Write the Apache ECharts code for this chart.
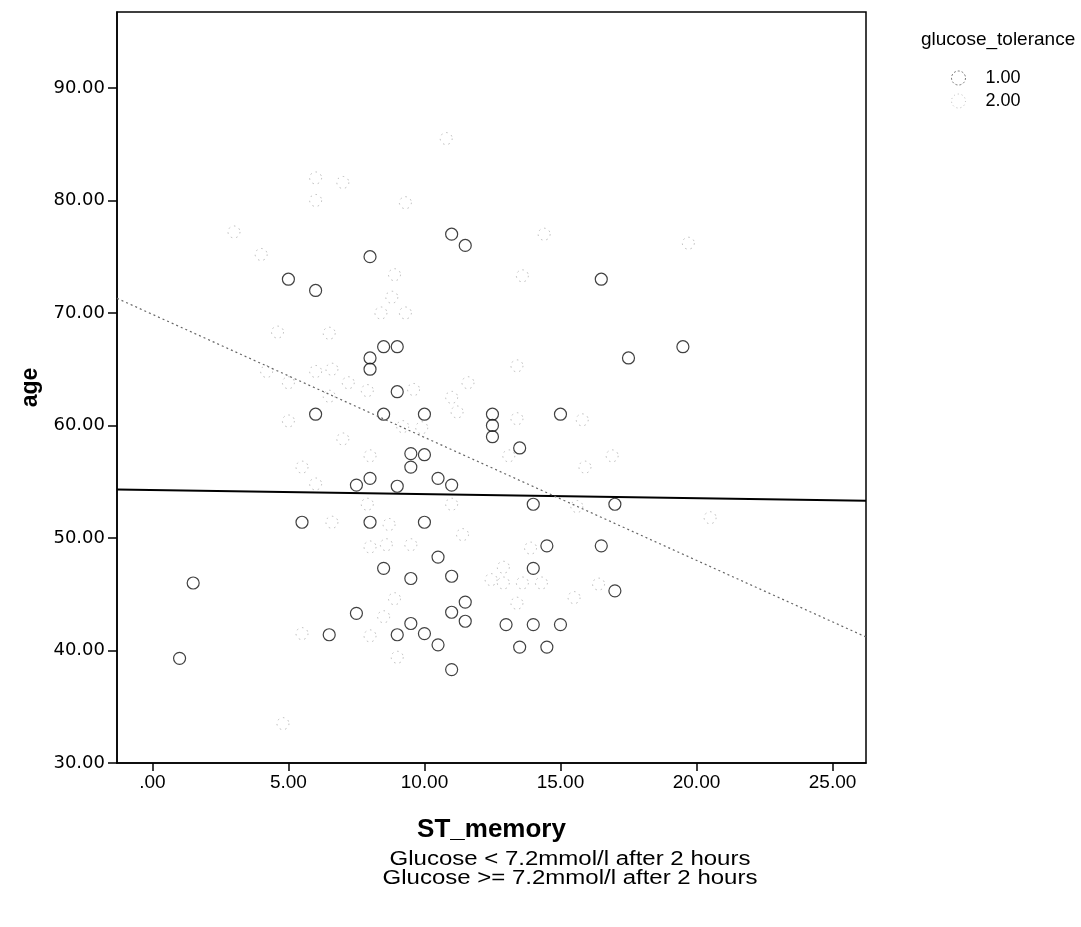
<!DOCTYPE html>
<html><head><meta charset="utf-8">
<script src="https://cdn.jsdelivr.net/npm/echarts@6/dist/echarts.min.js"></script>
<style>html,body{margin:0;padding:0;background:#fff}#c{width:1081px;height:927px}</style>
</head><body><div id="c"></div>
<script>
// ---- data ----
const xTicks = [0, 5, 10, 15, 20, 25];
const yTicks = [30, 40, 50, 60, 70, 80, 90];
const xRange = [-1.3, 26.23];
const yRange = [30, 96.75];
const groupNames = ['1.00', '2.00'];
const legendTitle = 'glucose_tolerance';
const xName = 'ST_memory';
const yName = 'age';
const footnotes = ['Glucose < 7.2mmol/l after 2 hours', 'Glucose >= 7.2mmol/l after 2 hours'];

// glucose_tolerance = 1.00 (ST_memory, age)
const tolerance1 = [
  [1,39.3],[1.5,46],[5,73],[6,72],[8,75],[11,77],[11.5,76],[16.5,73],[19.5,67],[17.5,66],
  [8,66],[8,65],[8.5,67],[9,67],[9,63],[6,61],[8.5,61],[10,61],[12.5,61],[12.5,60],
  [12.5,59],[15,61],[13.5,58],[9.5,57.5],[10,57.4],[9.5,56.3],[8,55.3],[7.5,54.7],[9,54.6],[10.5,55.3],
  [11,54.7],[14,53],[17,53],[5.5,51.4],[8,51.4],[10,51.4],[10.5,48.3],[8.5,47.3],[9.5,46.4],[11,46.6],
  [11.5,44.3],[11,43.4],[11.5,42.6],[7.5,43.3],[9.5,42.4],[9,41.4],[6.5,41.4],[10,41.5],[10.5,40.5],[11,38.3],
  [14.5,49.3],[16.5,49.3],[14,47.3],[17,45.3],[13,42.3],[14,42.3],[15,42.3],[13.5,40.3],[14.5,40.3]
];
// glucose_tolerance = 2.00 (ST_memory, age)
const tolerance2 = [
  [6,82],[6,80],[7,81.6],[9.3,79.8],[10.8,85.5],[3,77.2],[4,75.2],[14.4,77],[19.7,76.2],[8.9,73.4],
  [13.6,73.3],[8.8,71.4],[8.4,70],[9.3,70],[4.6,68.3],[6.5,68.2],[13.4,65.3],[4.2,64.8],[5,63.8],[6,64.8],
  [6.6,65],[7.2,63.8],[6.5,62.6],[7.9,63.1],[9.6,63.2],[11.6,63.8],[11,62.5],[11.2,61.2],[5,60.4],[9.2,59.9],
  [9.9,59.8],[7,58.8],[8,57.3],[5.5,56.3],[6,54.8],[13.1,57.3],[13.4,60.6],[15.8,60.5],[15.9,56.3],[16.9,57.3],
  [7.9,53],[11,53],[15.6,52.8],[20.5,51.8],[6.6,51.4],[8.7,51.2],[11.4,50.3],[8,49.2],[8.6,49.4],[9.5,49.4],
  [13.9,49.1],[12.45,46.3],[12.9,46],[13.6,46],[14.3,46],[12.9,47.4],[15.5,44.7],[13.4,44.2],[16.4,45.9],[8.9,44.6],
  [8.5,43],[8,41.3],[5.5,41.5],[9,39.4],[4.8,33.5]
];
// fit lines (endpoints at the frame edges)
const fit1 = [[-1.3, 54.3], [26.23, 53.3]];
const fit2 = [[-1.3, 71.3], [26.23, 41.2]];

const FONT = 'Liberation Sans, Arial, sans-serif';
const chart = echarts.init(document.getElementById('c'), null, {renderer: 'canvas'});
const fmt = v => (v === 0 ? '.00' : v.toFixed(2));

chart.setOption({
  backgroundColor: '#fff',
  animation: false,
  grid: {left: 117, top: 12, right: 215, bottom: 164, show: true, borderColor: '#000', borderWidth: 1.5, backgroundColor: 'transparent', outerBoundsMode: 'none'},
  xAxis: {
    type: 'value', min: xRange[0], max: xRange[1],
    name: xName, nameLocation: 'middle', nameGap: 54,
    nameTextStyle: {fontFamily: FONT, fontSize: 26, fontWeight: 'bold', color: '#000'},
    axisLine: {show: true, onZero: false, lineStyle: {color: '#000', width: 1.5}},
    axisTick: {show: true, length: 8, customValues: xTicks, lineStyle: {color: '#000', width: 1.5}},
    axisLabel: {customValues: xTicks, formatter: fmt, margin: 10, fontFamily: FONT, fontSize: 19, color: '#000'},
    splitLine: {show: false}
  },
  yAxis: {
    type: 'value', min: yRange[0], max: yRange[1], interval: 10,
    name: yName, nameLocation: 'middle', nameGap: 71,
    nameTextStyle: {fontFamily: FONT, fontSize: 23, fontWeight: 'bold', color: '#000'},
    axisLine: {show: true, onZero: false, lineStyle: {color: '#000', width: 1.5}},
    axisTick: {show: true, length: 9, customValues: yTicks, lineStyle: {color: '#000', width: 1.5}},
    axisLabel: {customValues: yTicks, formatter: fmt, margin: 12, fontFamily: 'DejaVu Sans, sans-serif', fontSize: 18, color: '#000'},
    splitLine: {show: false}
  },
  legend: {
    orient: 'vertical', left: 946, top: 64, itemGap: 5, itemWidth: 14, itemHeight: 14,
    icon: 'circle', selectedMode: false,
    textStyle: {fontFamily: FONT, fontSize: 18, color: '#000', padding: [0, 0, 0, 15]},
    data: [
      {name: groupNames[0], itemStyle: {color: 'transparent', borderColor: '#555', borderWidth: 1, borderType: [2, 2]}},
      {name: groupNames[1], itemStyle: {color: 'transparent', borderColor: '#aaa', borderWidth: 1, borderType: [1, 3]}}
    ]
  },
  graphic: [
    {type: 'text', left: 921, top: 30, style: {text: legendTitle, font: '19px ' + FONT, fill: '#000'}},
    {type: 'text', x: 570, y: 859, scaleX: 1.2, style: {text: footnotes[0], font: '20px ' + FONT, fill: '#000', textAlign: 'center', textVerticalAlign: 'middle'}},
    {type: 'text', x: 570, y: 878, scaleX: 1.2, style: {text: footnotes[1], font: '20px ' + FONT, fill: '#000', textAlign: 'center', textVerticalAlign: 'middle'}}
  ],
  series: [
    {
      name: groupNames[1], type: 'scatter', data: tolerance2, symbol: 'circle', symbolSize: 12, silent: true,
      itemStyle: {color: 'transparent', borderColor: '#aaa', borderWidth: 1, borderType: [1.5, 4]}, z: 2
    },
    {
      name: groupNames[0], type: 'scatter', data: tolerance1, symbol: 'circle', symbolSize: 12, silent: true,
      itemStyle: {color: 'transparent', borderColor: '#111', borderWidth: 1.2}, z: 3
    },
    {
      name: 'fit1', type: 'line', data: fit1, symbol: 'none', silent: true,
      lineStyle: {color: '#000', width: 2}, z: 4
    },
    {
      name: 'fit2', type: 'line', data: fit2, symbol: 'none', silent: true,
      lineStyle: {color: '#666', width: 1.2, type: [2, 3]}, z: 4
    }
  ]
});
</script></body></html>
